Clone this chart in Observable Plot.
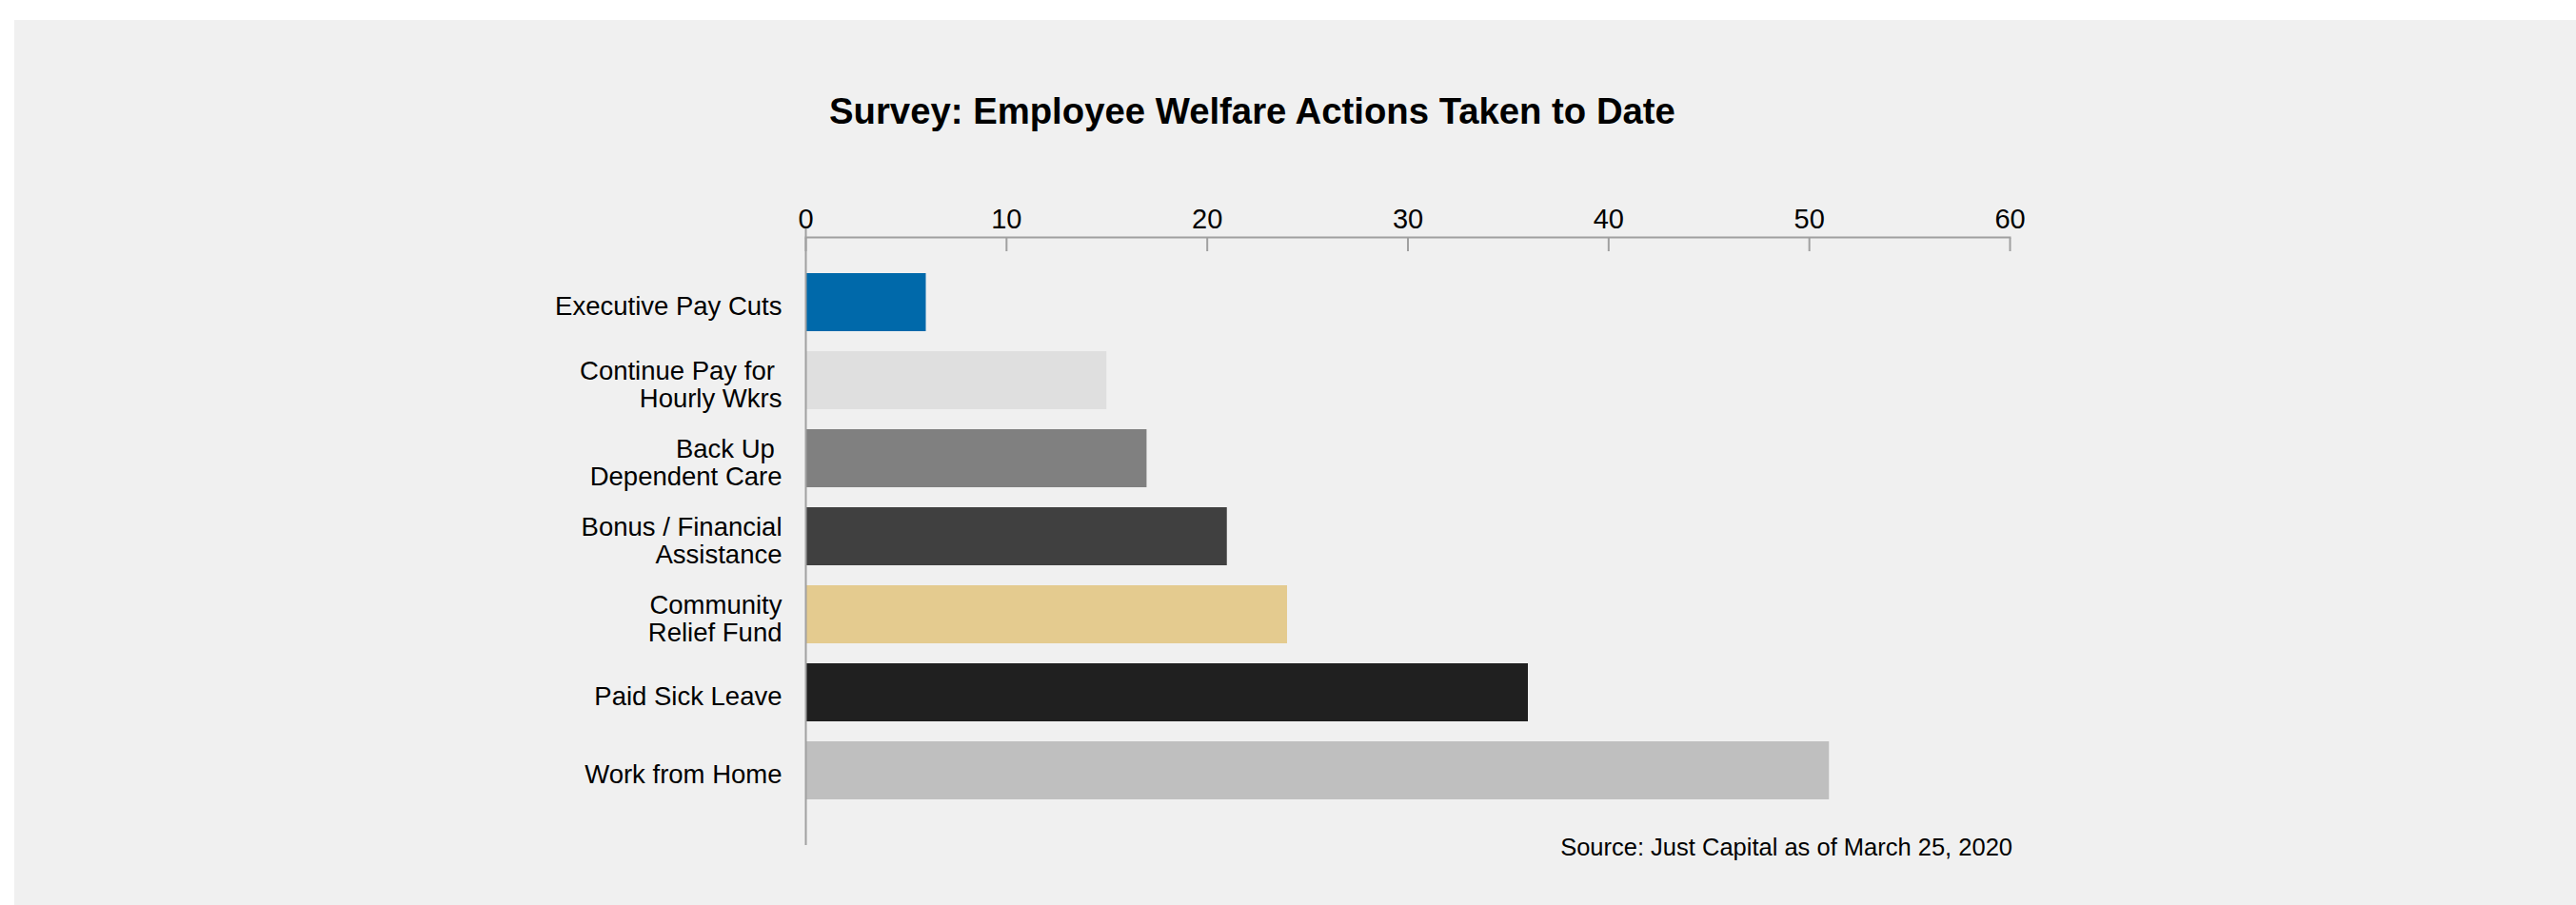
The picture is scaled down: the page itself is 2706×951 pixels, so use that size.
<!DOCTYPE html>
<html>
<head>
<meta charset="utf-8">
<script src="https://cdn.jsdelivr.net/npm/d3@7"></script>
<script src="https://cdn.jsdelivr.net/npm/@observablehq/plot@0.6"></script>
<style>
html, body { margin: 0; padding: 0; background: #ffffff; width: 2706px; height: 951px; overflow: hidden; font-family: "Liberation Sans", Arial, sans-serif; }
#panel { position: absolute; left: 15px; top: 21px; width: 2691px; height: 930px; background: #f0f0f0; }
#title { position: absolute; left: 871px; top: 98px; font-size: 38.3px; line-height: 38.3px; font-weight: bold; color: #000; white-space: nowrap; }
#source { position: absolute; right: 592px; top: 878px; font-size: 25.5px; line-height: 25.5px; color: #000; white-space: nowrap; text-align: right; }
#chart { position: absolute; left: 0; top: 0; }
</style>
</head>
<body>
<div id="panel"></div>
<div id="chart"></div>
<div id="title">Survey: Employee Welfare Actions Taken to Date</div>
<div id="source">Source: Just Capital as of March 25, 2020</div>
<script>
const categories = ["Executive Pay Cuts", "Continue Pay for Hourly Wkrs", "Back Up Dependent Care", "Bonus / Financial Assistance", "Community Relief Fund", "Paid Sick Leave", "Work from Home"];
const categoryLabels = ["Executive Pay Cuts", "Continue Pay for\u00a0\nHourly Wkrs", "Back Up\u00a0\nDependent Care", "Bonus / Financial\nAssistance", "Community\nRelief Fund", "Paid Sick Leave", "Work from Home"];
const values = [6, 15, 17, 21, 24, 36, 51];
const barColors = ["#0069aa", "#dfdfdf", "#808080", "#404040", "#e4cb8f", "#202020", "#bfbfbf"];
const xTicks = [0, 10, 20, 30, 40, 50, 60];

const data = categories.map((c, i) => ({category: c, value: values[i]}));
const axisGray = "#a0a0a0";

const chart = Plot.plot({
  width: 2706,
  height: 951,
  marginLeft: 846,
  marginRight: 595,
  marginTop: 240,
  marginBottom: 63,
  style: {background: "transparent", fontFamily: "'Liberation Sans', Arial, sans-serif", color: "#000"},
  x: {domain: [0, 60], label: null},
  y: {domain: categories, paddingInner: 0.2537, paddingOuter: 0.54, align: 0.5, label: null},
  color: {domain: categories, range: barColors},
  marks: [
    Plot.barX(data, {x: "value", y: "category", fill: "category"}),
    Plot.ruleX([0], {stroke: axisGray, strokeWidth: 2}),
    Plot.frame({anchor: "top", stroke: axisGray, strokeWidth: 2, dy: 9}),
    Plot.axisX(xTicks, {anchor: "top", tickSize: 14, fill: "none", stroke: axisGray, strokeWidth: 2, dy: 23, label: null}),
    Plot.axisX(xTicks, {anchor: "top", tickSize: 0, tickPadding: 1, fontSize: 29, fill: "#000", label: null}),
    Plot.axisY({tickSize: 0, tickPadding: 25, fontSize: 27.5, lineHeight: 1.07, dy: 4, fill: "#000", label: null,
      tickFormat: d => categoryLabels[categories.indexOf(d)]})
  ]
});
document.getElementById("chart").appendChild(chart);
</script>
</body>
</html>
